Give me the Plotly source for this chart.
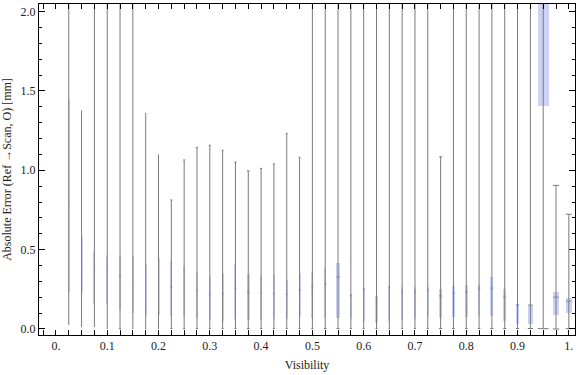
import plotly.graph_objects as go

# ---- data ----
visibility = [round(0.025 * k, 3) for k in range(1, 41)]

lower_whisker = [0.030, 0.015, 0.015, 0.004, 0.002, 0.003, 0.003, 0.003, 0.003, 0.003,
                 0.003, 0.002, 0.003, 0.003, 0.003, 0.003, 0.003, 0.003, 0.002, 0.003,
                 0.003, 0.003, 0.003, 0.003, 0.003, 0.002, 0.003, 0.003, 0.003, 0.003,
                 0.003, 0.003, 0.003, 0.003, 0.003, 0.003, 0.003, 0.002, 0.000, 0.002]
q1 = [0.233, 0.227, 0.158, 0.158, 0.122, 0.099, 0.088, 0.088, 0.080, 0.080,
      0.071, 0.059, 0.050, 0.063, 0.057, 0.059, 0.063, 0.063, 0.084, 0.068,
      0.071, 0.071, 0.061, 0.052, 0.040, 0.052, 0.059, 0.065, 0.078, 0.071,
      0.078, 0.078, 0.084, 0.084, 0.052, 0.032, 0.034, 1.407, 0.090, 0.101]
median = [0.800, 0.400, 0.386, 0.380, 0.334, 0.300, 0.254, 0.275, 0.265, 0.258,
          0.241, 0.219, 0.222, 0.256, 0.229, 0.229, 0.225, 0.219, 0.244, 0.263,
          0.281, 0.328, 0.210, 0.250, 0.190, 0.265, 0.229, 0.235, 0.244, 0.208,
          0.225, 0.233, 0.256, 0.256, 0.202, 0.151, 0.151, 2.300, 0.200, 0.175]
q3 = [1.447, 0.578, 0.490, 0.466, 0.466, 0.460, 0.410, 0.447, 0.426, 0.395,
      0.359, 0.328, 0.355, 0.408, 0.345, 0.338, 0.347, 0.309, 0.353, 0.359,
      0.384, 0.416, 0.219, 0.258, 0.208, 0.273, 0.265, 0.265, 0.265, 0.250,
      0.271, 0.275, 0.277, 0.328, 0.250, 0.158, 0.153, 2.600, 0.233, 0.195]
upper_whisker = [2.5, 1.374, 2.5, 2.5, 2.5, 2.5, 1.359, 1.096, 0.813, 1.065,
                 1.145, 1.157, 1.126, 1.052, 0.996, 1.012, 1.040, 1.233, 1.082, 2.5,
                 2.5, 2.5, 2.5, 2.5, 2.5, 2.5, 2.5, 2.5, 2.5, 1.085,
                 2.5, 2.5, 2.5, 2.5, 2.5, 2.5, 2.5, 3.0, 0.905, 0.723]
# box widths (in visibility units)
box_width = [0.002, 0.002, 0.002, 0.0025, 0.0045, 0.002, 0.002, 0.002, 0.004, 0.004,
             0.004, 0.004, 0.004, 0.004, 0.005, 0.004, 0.004, 0.004, 0.004, 0.004,
             0.005, 0.006, 0.004, 0.004, 0.004, 0.003, 0.004, 0.004, 0.004, 0.006,
             0.005, 0.005, 0.005, 0.006, 0.006, 0.006, 0.010, 0.021, 0.012, 0.012]

x_tick_vals = [0.0, 0.1, 0.2, 0.3, 0.4, 0.5, 0.6, 0.7, 0.8, 0.9, 1.0]
x_tick_text = ["0.", "0.1", "0.2", "0.3", "0.4", "0.5", "0.6", "0.7", "0.8", "0.9", "1."]
y_tick_vals = [0.0, 0.5, 1.0, 1.5, 2.0]
y_tick_text = ["0.0", "0.5", "1.0", "1.5", "2.0"]

# ---- build traces ----
wx, wy = [], []
for v, lo, hi, w in zip(visibility, lower_whisker, upper_whisker, box_width):
    wx += [v, v, None, v - w / 2, v + w / 2, None, v - w / 2, v + w / 2, None]
    wy += [lo, hi, None, lo, lo, None, hi, hi, None]

mx, my = [], []
for v, m, w in zip(visibility, median, box_width):
    mx += [v - w / 2, v + w / 2, None]
    my += [m, m, None]

fig = go.Figure()
fig.add_trace(go.Scatter(x=wx, y=wy, mode="lines",
                         line=dict(color="#7a7a7a", width=1), hoverinfo="skip",
                         showlegend=False))
fig.add_trace(go.Bar(x=visibility, base=q1, y=[b - a for a, b in zip(q1, q3)],
                     width=box_width, marker=dict(color="rgb(205,211,247)", line=dict(width=0)),
                     showlegend=False))
fig.add_trace(go.Scatter(x=mx, y=my, mode="lines",
                         line=dict(color="rgba(120,120,140,0.4)", width=2),
                         hoverinfo="skip", showlegend=False))

font_family = "Liberation Serif, Times New Roman, serif"
fig.update_layout(
    width=576, height=375,
    margin=dict(l=39, r=1, t=4, b=40),
    paper_bgcolor="white", plot_bgcolor="white",
    barmode="overlay", bargap=0,
    font=dict(family=font_family, size=12, color="#222"),
    showlegend=False,
)
fig.update_xaxes(
    range=[-0.033, 1.012], showgrid=False, zeroline=False,
    showline=True, linecolor="black", linewidth=1, mirror="allticks",
    tickmode="array", tickvals=x_tick_vals, ticktext=x_tick_text,
    ticks="inside", ticklen=5, tickcolor="black", tickwidth=1,
    minor=dict(tickmode="linear", tick0=0, dtick=0.025, ticks="inside",
               ticklen=5, tickcolor="black", tickwidth=1, showgrid=False),
    tickfont=dict(family=font_family, size=12, color="#222"),
    title=dict(text="Visibility", font=dict(family=font_family, size=12, color="#222"),
               standoff=8),
)
fig.update_yaxes(
    range=[-0.038, 2.048], showgrid=False, zeroline=False,
    showline=True, linecolor="black", linewidth=1, mirror="allticks",
    tickmode="array", tickvals=y_tick_vals, ticktext=y_tick_text,
    ticks="inside", ticklen=6, tickcolor="black", tickwidth=1,
    minor=dict(tickmode="linear", tick0=0, dtick=0.1, ticks="inside",
               ticklen=3, tickcolor="black", tickwidth=1, showgrid=False),
    tickfont=dict(family=font_family, size=12, color="#222"),
    title=dict(text="Absolute Error (Ref →Scan, O) [mm]",
               font=dict(family=font_family, size=12, color="#222"), standoff=6),
)

fig.write_html("out.html", config={"displayModeBar": False},
               post_script="document.body.style.margin='0';document.body.style.padding='0';")
